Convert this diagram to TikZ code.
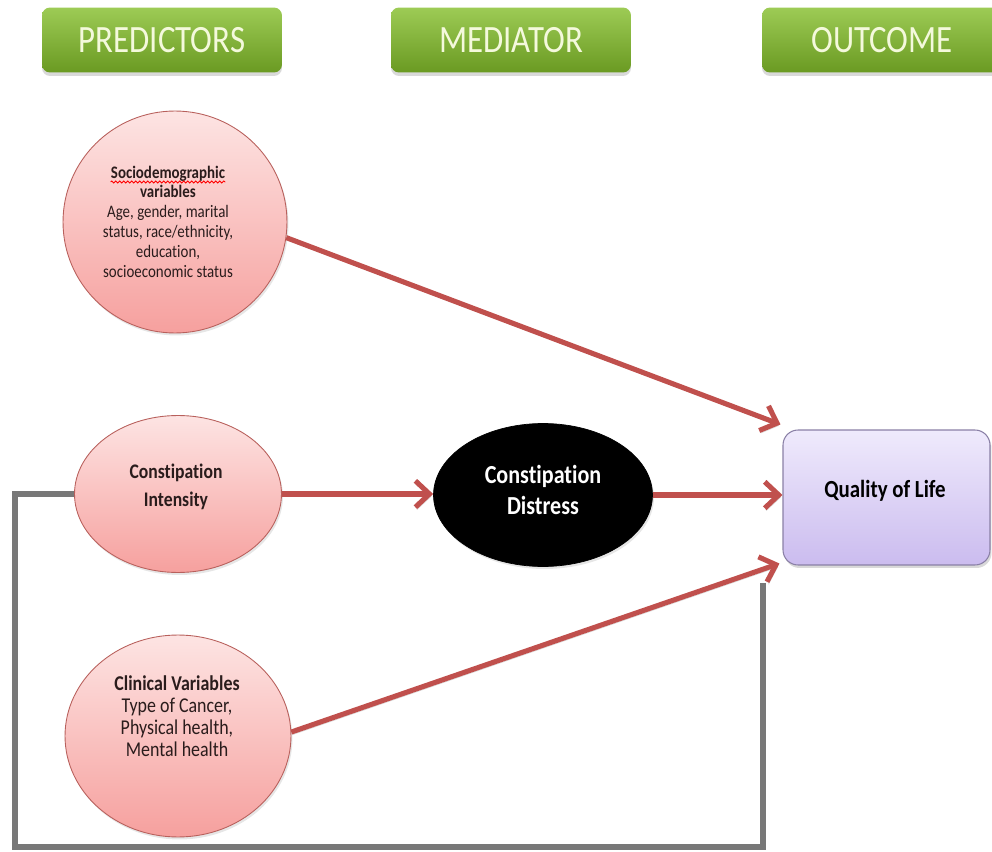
\documentclass[tikz,border=0pt]{standalone}
\usepackage{fontspec}
\setmainfont{Carlito}[FakeStretch=0.85, Ligatures=CommonOff]
\usetikzlibrary{arrows.meta,shadows,calc,shapes.geometric,decorations.pathmorphing}

\definecolor{hdrtop}{HTML}{9DCB55}
\definecolor{hdrbot}{HTML}{6A9A22}
\definecolor{hdrtext}{HTML}{F4F9DC}
\definecolor{pinktop}{HTML}{FDE4E3}
\definecolor{pinkbot}{HTML}{F6A09E}
\definecolor{pinkline}{HTML}{B8605C}
\definecolor{linkred}{HTML}{C0504D}
\definecolor{qoltop}{HTML}{EFEAFC}
\definecolor{qolbot}{HTML}{CBBCEF}
\definecolor{qolline}{HTML}{8A80A6}
\definecolor{loopgray}{HTML}{787878}
\definecolor{inkdark}{HTML}{2A1C1C}

\tikzset{
  hdrbox/.style={rectangle, rounded corners=0.16cm, minimum width=4.8cm,
    minimum height=1.3cm, inner sep=0pt, top color=hdrtop, bottom color=hdrbot,
    text=hdrtext, font=\fontsize{22}{26}\selectfont,
    drop shadow={shadow xshift=0pt, shadow yshift=-0.07cm, opacity=0.3}},
  pinkball/.style={ellipse, inner sep=0pt, draw=pinkline, line width=0.5pt,
    top color=pinktop, bottom color=pinkbot,
    drop shadow={shadow xshift=0.03cm, shadow yshift=-0.05cm, opacity=0.2}},
  blackball/.style={ellipse, inner sep=0pt, fill=black, draw=black,
    drop shadow={shadow xshift=0.03cm, shadow yshift=-0.05cm, opacity=0.2}},
  qolbox/.style={rectangle, rounded corners=0.3cm, inner sep=0pt,
    draw=qolline, line width=0.6pt, top color=qoltop, bottom color=qolbot,
    drop shadow={shadow xshift=0.03cm, shadow yshift=-0.06cm, opacity=0.3}},
  bodytext/.style={align=center, inner sep=0pt, text=inkdark},
  spellwave/.style={draw=red, line width=0.5pt, decorate,
    decoration={snake, segment length=0.08cm, amplitude=0.02cm}},
  linkarrow/.style={draw=linkred, line width=2.9pt,
    -{Straight Barb[length=8pt,width=15pt]},
    preaction={draw=black, opacity=0.15,
      transform canvas={shift={(0.03cm,-0.05cm)}}}},
  loopline/.style={draw=loopgray, line width=3.3pt}
}

\begin{document}
\begin{tikzpicture}[x=0.02cm, y=-0.02cm]
\useasboundingbox (0,0) rectangle (992,852);
\clip (0,0) rectangle (992,852);

% column headings
\node[hdrbox] (hpred) at (162,40) {PREDICTORS};
\node[hdrbox] (hmed)  at (511,40) {MEDIATOR};
\node[hdrbox] (hout)  at (882,40) {OUTCOME};

% predictor, mediator and outcome shapes
\node[pinkball, minimum width=4.48cm, minimum height=4.44cm] (soc) at (175,222) {};
\node[pinkball, minimum width=4.14cm, minimum height=3.14cm] (int) at (178,494) {};
\node[pinkball, minimum width=4.52cm, minimum height=4.04cm] (cli) at (178,736) {};
\node[blackball, minimum width=4.38cm, minimum height=2.86cm] (dis) at (543,495) {};
\node[qolbox, minimum width=4.14cm, minimum height=2.7cm] (qol) at (886.5,497.5) {};

% labels
\node[bodytext, anchor=base, font=\fontsize{10}{11.4}\selectfont\bfseries]
  (soch) at (168,178) {Sociodemographic};
\draw[spellwave] ($(soch.base west)+(0,4)$) -- ($(soch.base east)+(0,4)$);
\node[bodytext, anchor=north, font=\fontsize{10}{11.4}\selectfont]
  (socb) at ($(soch.base)+(0,7)$)
  {\textbf{variables}\\
   Age, gender, marital\\
   status, race/ethnicity,\\
   education,\\
   socioeconomic status};
\node[bodytext, font=\fontsize{11.8}{15.8}\selectfont\bfseries] (intt) at (176,487)
  {Constipation\\ Intensity};
\node[bodytext, font=\fontsize{12}{12.4}\selectfont] (clit) at (177,716)
  {\textbf{Clinical Variables}\\ Type of Cancer,\\ Physical health,\\ Mental health};
\node[align=center, inner sep=0pt, text=white, font=\fontsize{14.8}{17.5}\selectfont\bfseries]
  (dist) at (543,490) {Constipation\\ Distress};
\node[inner sep=0pt, text=black, font=\fontsize{14}{17}\selectfont\bfseries]
  (qolt) at (885,491) {Quality of Life};

% arrow end points on the outcome box corners
\coordinate (qtop) at ($(qol.north west)+(-2,-5)$);
\coordinate (qbot) at ($(qol.south west)+(-3,-2)$);

% causal paths
\draw[linkarrow] (soc.-8) -- (qtop);
\draw[linkarrow] (int.east) -- (int.east -| dis.west);
\draw[linkarrow] (dis.east) -- (dis.east -| qol.west);
\draw[linkarrow] (cli.2) -- (qbot);

% direct path from intensity, routed round the bottom
\coordinate (lowleft) at (15,847);
\coordinate (gend) at (763,583);
\draw[loopline] (int.west) -- (int.west -| lowleft) -- (lowleft)
  -- (lowleft -| gend) -- (gend);
\end{tikzpicture}
\end{document}
